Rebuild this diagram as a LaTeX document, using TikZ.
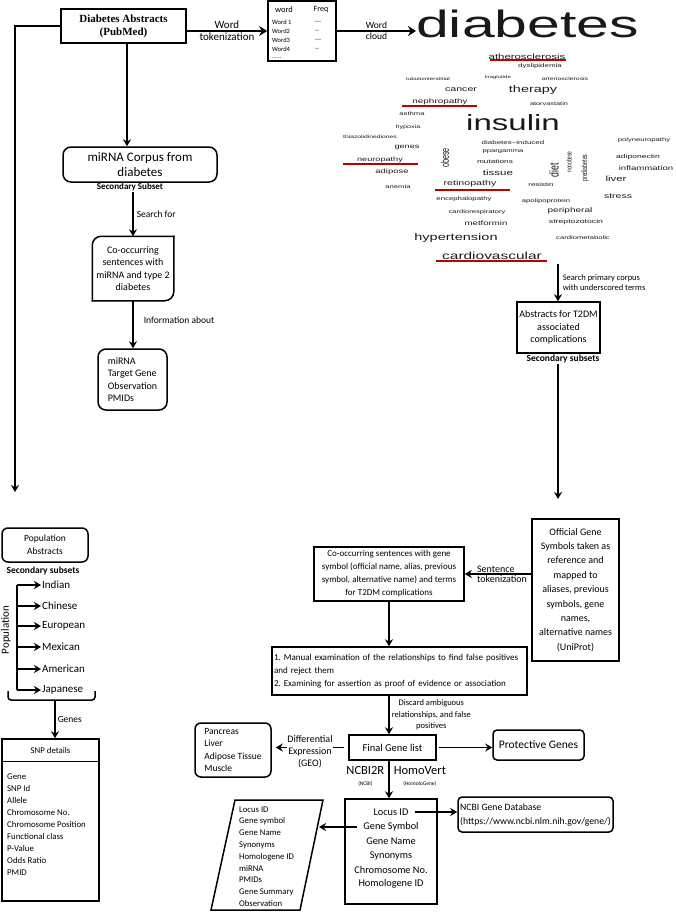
\documentclass[tikz,border=0pt]{standalone}
\usepackage{fontspec}
\setmainfont{Carlito}
\newfontfamily\cloudfont{Liberation Sans}
\newfontfamily\serifbd{Liberation Serif}
\usepackage{graphicx}
\usetikzlibrary{positioning,arrows.meta}
\newcommand{\fsz}[2]{\fontsize{#1}{#2}\selectfont}
\frenchspacing

\begin{document}
\begin{tikzpicture}[x=1pt, y=-1pt,
  box/.style={draw, line width=1.5pt, align=center, inner sep=2pt},
  rbox/.style={box, rounded corners=6pt},
  conn/.style={line width=1.5pt},
  arr/.style={conn, -{Stealth[length=7pt, width=8pt]}},
  bigarr/.style={line width=2.4pt, -{Stealth[length=8pt, width=10pt]}},
  lbl/.style={align=center, inner sep=1pt},
  cw/.style={inner sep=0pt, text=black!90},
  uline/.style={line width=1.2pt, red!75!black},
  listtxt/.style={inner sep=0pt, anchor=west, align=left}
]
\useasboundingbox (0,0) rectangle (675,913);

\node[box, minimum width=125pt, minimum height=34pt, font={\serifbd\bfseries\fsz{11}{13}}] (abs) at (123.5,26) {Diabetes Abstracts\\(PubMed)};
\node[box, line width=1.7pt, minimum width=68pt, minimum height=60pt] (wtab) at (302,31) {};
\node[inner sep=0pt, font=\fsz{8.5}{9}] (twh) at (284,10) {word};
\node[inner sep=0pt, font=\fsz{8}{9}] (tfh) at (321,10) {Freq};
\foreach \w/\f/\y [count=\i] in {Word 1/{-}{-}{-}/22, Word2/{-}{-}/31, Word3/{-}{-}{-}/40, Word4/{-}{-}/49} {
  \node[listtxt, font=\fsz{6.5}{7}] (tw\i) at (272,\y) {\w};
  \node[listtxt, font=\fsz{6.5}{7}] (tf\i) at (315,\y) {\f};
}
\node[listtxt, font=\fsz{6}{6}] (tdots) at (272,58) {......};
\node[cw, anchor=base west, font={\cloudfont\fsz{38}{38}}] (dia) at (416,37) {\scalebox{1.55}[1]{diabetes}};
\draw[bigarr] (abs.east |- wtab.west) -- node[lbl, above, font=\fsz{11}{12}]{Word} node[lbl, below, font=\fsz{11}{12}]{tokenization} (wtab.west);
\draw[bigarr] (wtab.east) -- node[lbl, above, font=\fsz{9.5}{11}]{Word} node[lbl, below, font=\fsz{9.5}{11}]{cloud} (wtab.east -| dia.west);

\foreach \x/\y/\s/\w [count=\i] in {527/57/7.6/atherosclerosis, 540/66/5.3/dyslipidemia, 428/79/4.2/tubulointerstitial,
  498/77/4/liraglutide, 565/79/4.6/arteriosclerosis, 461/90/7.1/cancer, 533/90/9.6/therapy, 440/102/6.6/nephropathy,
  549/104/4.9/atorvastatin, 412/114/5.1/asthma, 513/123/22/insulin, 408/127/4.8/hypoxia, 370/137/4.5/thiazolidinediones,
  644/140/5.1/polyneuropathy, 407/147/6.1/genes, 513/143/5.3/diabetes−induced, 503/152/5.1/ppargamma, 380/160/6.1/neuropathy,
  638/157/5.7/adiponectin, 495/162/5.5/mutations, 646/168/6.4/inflammation, 392/172/6.3/adipose, 498/173/7.7/tissue,
  616/179/7.6/liver, 398/187/5.1/anemia, 470/184/7.1/retinopathy, 541/185/5.3/resistin, 618/196/7/stress,
  464/199/5.2/encephalopathy, 546/201/5.1/apolipoprotein, 477/212/5.1/cardiorespiratory, 570/211/6.7/peripheral,
  486/223/6.4/metformin, 576/222/5.8/streptozotocin, 456/238/9.7/hypertension, 583/238/5.1/cardiometabolic,
  492/256/10.3/cardiovascular}
  \node[cw, font={\cloudfont\fsz{\s}{\s}}] (cw\i) at (\x,\y) {\scalebox{1.5}[1]{\w}};
\foreach \x/\y/\s/\w [count=\i] in {445/158/7.3/obese, 554/170/8.7/diet, 569/162/4.8/nonobese, 585/168/5.2/prediabetes}
  \node[cw, font={\cloudfont\fsz{\s}{\s}}] (cv\i) at (\x,\y) {\rotatebox{90}{\scalebox{1}[1.5]{\w}}};
\foreach \a/\b/\y in {490/566/60, 402/477/106, 343/418/164, 435/510/190, 436/547/261}
  \draw[uline] (\a,\y) -- (\b,\y);

\coordinate (cvend) at (558,264);
\node[box, minimum width=83pt, minimum height=51pt, font=\fsz{10}{12.5}] (t2dm) at (558.5,327.5) {Abstracts for T2DM\\associated\\complications};
\draw[arr] (cvend) -- node[lbl, right=3pt, align=left, font=\fsz{8.5}{10}]{Search primary corpus\\with underscored terms} (cvend |- t2dm.north);
\node[lbl, font={\bfseries\fsz{9.5}{11}}] (sec2) at (563,359) {Secondary subsets};
\coordinate (offin) at (558,499);
\draw[arr] (sec2.south -| cvend) -- (offin);
\node[box, minimum width=87pt, minimum height=142pt, font=\fsz{10}{14.4}] (off) at (575.5,590) {Official Gene\\Symbols taken as\\reference and\\mapped to\\aliases, previous\\symbols, gene\\names,\\alternative names\\(UniProt)};
\node[box, inner xsep=1pt, minimum width=150pt, minimum height=54pt, font=\fsz{9}{13}] (cog) at (389,574) {Co-occurring sentences with gene\\symbol (official name, alias, previous\\symbol, alternative name) and terms\\for T2DM complications};
\draw[arr] (off.west |- cog.east) -- node[lbl, pos=0.84, anchor=south west, font=\fsz{10}{11}]{Sentence} node[lbl, pos=0.84, anchor=north west, font=\fsz{10}{11}]{tokenization} (cog.east);
\node[box, text width=251pt, align=left, minimum height=48pt, font=\fsz{9}{13.3}] (man) at (399.5,671) {1. Manual examination of the relationships to find false positives\\and reject them\\2. Examining for assertion as proof of evidence or association};
\draw[arr] (cog.south) -- (cog.south |- man.north);
\node[box, minimum width=87pt, minimum height=25pt, font=\fsz{10.5}{12}] (fgl) at (392.5,747.5) {Final Gene list};
\draw[arr] (man.south -| cog.south) -- node[lbl, right=1pt, font=\fsz{8.5}{11.5}]{Discard ambiguous\\relationships, and false\\positives} (fgl.north -| cog.south);
\node[rbox, align=left, minimum width=76pt, minimum height=54pt, font=\fsz{9.5}{12.4}] (tis) at (233,750) {Pancreas\\Liver\\Adipose Tissue\\Muscle};
\draw[arr, shorten <=4pt, shorten >=4pt] (fgl.west) -- node[lbl, fill=white, inner sep=0pt, yshift=-4pt, font=\fsz{10}{12}]{Differential\\Expression\\(GEO)} (fgl.west -| tis.east);
\node[rbox, rounded corners=4pt, minimum width=91pt, minimum height=30pt, font=\fsz{11.5}{13}] (prot) at (538.5,745) {Protective Genes};
\draw[arr, shorten <=2pt] (fgl.east) -- (fgl.east -| prot.west);

\node[box, minimum width=92pt, minimum height=105pt] (loc) at (391,851.5) {};
\foreach \t/\y [count=\i] in {Locus ID/812, Gene Symbol/827, Gene Name/841, Synonyms/856, Chromosome No./870, Homologene ID/884}
  \node[inner sep=0pt, font=\fsz{10.3}{12}] (l\i) at (391,\y) {\t};
\draw[arr] (fgl.south -| cog.south) -- node[lbl, left=3pt, yshift=3pt, font=\fsz{12.5}{13}]{NCBI2R\\[-2pt]\fsz{5.5}{6}(NCBI)} node[lbl, right=3pt, yshift=3pt, font=\fsz{12.5}{13}]{HomoVert\\[-2pt]\fsz{5.5}{6}(HomoloGene)} (loc.north -| cog.south);
\node[rbox, rounded corners=4pt, align=left, inner xsep=1pt, minimum width=155pt, minimum height=35pt, font=\fsz{9.7}{14}] (ncbi) at (535.5,814.5) {NCBI Gene Database\\(https://www.ncbi.nlm.nih.gov/gene/)};
\draw[arr, shorten <=6pt] (l1.east) -- (l1.east -| ncbi.west);
\node[listtxt, font=\fsz{8.7}{11.8}] (plist) at (239,856.5) {Locus ID\\Gene symbol\\Gene Name\\Synonyms\\Homologene ID\\miRNA\\PMIDs\\Gene Summary\\Observation};
\draw[conn] (235,800) -- (323,800) -- (300,910) -- (211,910) -- cycle;
\coordinate (pin) at (319,827);
\draw[arr, shorten <=6pt] (l2.west) -- (l2.west -| pin);

\coordinate (popin) at (15,492);
\draw[arr] (abs.west) -| (popin);
\node[rbox, rounded corners=8pt, minimum width=154pt, minimum height=35pt, font=\fsz{13}{15}] (corp) at (140,164.5) {miRNA Corpus from\\diabetes};
\coordinate (absdn) at ([xshift=3.5pt]abs.south);
\draw[arr] (absdn) -- (absdn |- corp.north);
\node[lbl, font={\bfseries\fsz{9}{10}}] (sec1) at (130,187) {Secondary Subset};
\node[box, draw=none, minimum width=80pt, minimum height=63pt, font=\fsz{10}{12.2}] (cooc) at (133,268.5) {Co-occurring\\sentences with\\miRNA and type 2\\diabetes};
\draw[conn, rounded corners=9pt, line cap=rect] (cooc.south west) -- (cooc.north west) -- (cooc.north east);
\draw[conn, rounded corners=9pt, line cap=rect] (cooc.north east) -- (cooc.south east) -- (cooc.south west);
\draw[arr] (sec1.south -| cooc.north) -- node[lbl, right=2pt, font=\fsz{9.5}{11}]{Search for} (cooc.north);
\node[rbox, rounded corners=8pt, align=left, minimum width=69pt, minimum height=61pt, font=\fsz{10}{12.5}] (mirna) at (132.5,379.5) {miRNA\\Target Gene\\Observation\\PMIDs};
\draw[arr] (cooc.south) -- node[lbl, right=9pt, yshift=4pt, font=\fsz{9.5}{11}]{Information about} (cooc.south |- mirna.north);

\node[rbox, minimum width=86pt, minimum height=34pt, font=\fsz{9.5}{12.7}] (popabs) at (45,545) {Population\\Abstracts};
\node[lbl, font={\bfseries\fsz{9.5}{11}}] (sec3) at (43,571) {Secondary subsets};
\coordinate (spine) at (17,585);
\foreach \p/\y [count=\i] in {Indian/585, Chinese/606, European/626, Mexican/647, American/669, Japanese/690} {
  \node[listtxt, inner sep=1pt, font=\fsz{11}{12}] (pop\i) at (41,\y) {\p};
  \draw[arr] (spine |- pop\i.west) -- (pop\i.west);
}
\draw[conn] (spine) -- (spine |- pop6.west);
\node[lbl, font=\fsz{11}{12}] (poplbl) at (6,630) {\rotatebox{90}{Population}};
\draw[conn, rounded corners=3pt] (8,691) -- (8,700) -- (95,700) -- (95,691);
\coordinate (brc) at (55,700);
\node[box, minimum width=97pt, minimum height=162pt] (snp) at (50.5,820) {};
\draw[arr] (brc) -- node[lbl, right=1pt, font=\fsz{9.5}{11}]{Genes} (brc |- snp.north);
\node[inner sep=0pt, font=\fsz{8.8}{10}] (snph) at (50.5,750) {SNP details};
\draw[conn] ([yshift=-23pt]snp.north west) -- ([yshift=-23pt]snp.north east);
\foreach \t [count=\i] in {Gene, SNP Id, Allele, Chromosome No., Chromosome Position, Functional class, P-Value, Odds Ratio, PMID}
  \node[listtxt, font=\fsz{8.8}{10}] (snp\i) at (7,{777+11.9*(\i-1)}) {\t};
\end{tikzpicture}
\end{document}
